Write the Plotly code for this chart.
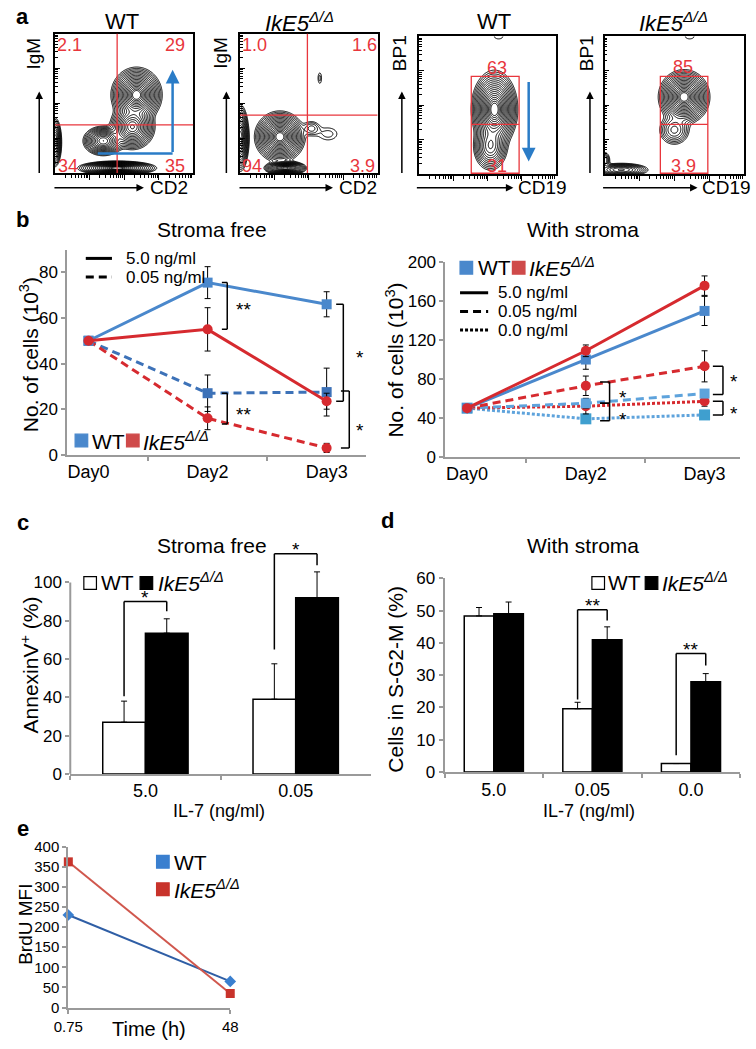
import numpy as np
import plotly.graph_objects as go

W, H = 756, 1049
FONT = "Arial, 'Liberation Sans', Helvetica, sans-serif"
KO = "<i>IkE5</i><sup><i>Δ/Δ</i></sup>"

# ---------------- data ----------------
# panel a: contour populations (frame-relative centre, spread, weight)
A1_X = [0.59, 0.56, 0.35, 0.45, 0.00]
A1_Y = [0.56, 0.33, 0.23, 0.035, 0.22]
A1_SX = [0.065, 0.06, 0.055, 0.10, 0.02]
A1_SY = [0.07, 0.06, 0.04, 0.018, 0.07]
A1_W = [1.0, 0.7, 0.6, 1.0, 0.4]
A1_GATE = (0.45, 0.345)
A1_PCT = ["2.1", "29", "34", "35"]

A2_X = [0.29, 0.00, 0.33, 0.52, 0.58, 0.64]
A2_Y = [0.26, 0.25, 0.035, 0.32, 0.68, 0.28]
A2_SX = [0.065, 0.025, 0.055, 0.035, 0.012, 0.06]
A2_SY = [0.065, 0.09, 0.018, 0.03, 0.035, 0.04]
A2_W = [1.0, 0.6, 0.9, 0.06, 0.03, 0.03]
A2_GATE = (0.49, 0.415)
A2_PCT = ["1.0", "1.6", "94", "3.9"]

A3_X = [0.55, 0.52, 0.58]
A3_Y = [0.47, 0.20, 1.00]
A3_SX = [0.06, 0.05, 0.035]
A3_SY = [0.10, 0.07, 0.02]
A3_W = [1.0, 0.35, 0.025]
A3_BOX = (0.38, 0.73, 0.36, 0.71)
A3_PCT = ["63", "31"]

A4_X = [0.57, 0.50, 0.12, 0.00, 0.61]
A4_Y = [0.56, 0.32, 0.03, 0.10, 1.00]
A4_SX = [0.065, 0.05, 0.08, 0.02, 0.035]
A4_SY = [0.07, 0.05, 0.02, 0.03, 0.02]
A4_W = [1.0, 0.15, 0.3, 0.1, 0.025]
A4_BOX = (0.40, 0.74, 0.36, 0.71)
A4_PCT = ["85", "3.9"]

# panel b
DAYS = ["Day0", "Day2", "Day3"]
SF_WT_5 = [50, 75.5, 66]
SF_WT_5_ERR = [0, 7, 5.5]
SF_KO_5 = [50, 55, 23.5]
SF_KO_5_ERR = [0, 9.5, 3.5]
SF_WT_005 = [50, 27, 27.5]
SF_WT_005_ERR = [0, 8, 10.5]
SF_KO_005 = [50, 16, 3]
SF_KO_005_ERR = [0, 5, 2]

WS_WT_5 = [50, 100, 150]
WS_WT_5_ERR = [0, 10, 15]
WS_KO_5 = [50, 109, 176]
WS_KO_5_ERR = [0, 6, 10]
WS_WT_005 = [50, 55, 65]
WS_WT_005_ERR = [0, 5, 3]
WS_KO_005 = [50, 73, 93]
WS_KO_005_ERR = [0, 10, 16]
WS_WT_00 = [50, 39, 43]
WS_WT_00_ERR = [0, 3, 3]
WS_KO_00 = [50, 52, 57]
WS_KO_00_ERR = [0, 8, 5]

# significance brackets: (category, y_high, y_low, label, label_y)
SIG_B1 = [(1, 75.5, 55, "**", 65), (1, 27, 13.5, "**", 19), (2, 66, 23.5, "*", 44), (2, 28, 3, "*", 12)]
SIG_B2 = [(1, 77, 55, "*", 64), (1, 55, 37, "*", 41), (2, 93, 64, "*", 80), (2, 57, 43, "*", 48)]

# panel c
IL7_C = ["5.0", "0.05"]
C_WT = [27, 39]
C_WT_ERR = [11, 18.5]
C_KO = [73.5, 92]
C_KO_ERR = [7.5, 13.5]
SIG_C = [(0, 40.5, 90, 85, "*"), (1, 65, 115, 109, "*")]

# panel d
IL7_D = ["5.0", "0.05", "0.0"]
D_WT = [48.4, 19.6, 2.6]
D_WT_ERR = [2.6, 2.0, 0]
D_KO = [49.1, 41, 28]
D_KO_ERR = [3.6, 4.0, 2.5]
SIG_D = [(1, 22.5, 50.3, 47, "**"), (2, 5.2, 36.7, 33, "**")]

# panel e
TIME = ["0.75", "48"]
E_WT = [230, 65]
E_KO = [362, 35]

# ---------------- colours ----------------
BLUE = "#4a88cc"
BLUE_D = "#3d72b8"
BLUE_L = "#5ea3dc"
CYAN = "#3f9fcf"
RED = "#d62a2f"
GATE = "#e8363c"
ARROW_BLUE = "#2a7cc7"
GREY = "#9a9a9a"

fig = go.Figure()
layout = dict(width=W, height=H, margin=dict(l=0, r=0, t=0, b=0),
              paper_bgcolor="white", plot_bgcolor="rgba(0,0,0,0)",
              showlegend=False, font=dict(family=FONT, color="black"))
ann, shapes = [], []


def names(i):
    s = "" if i == 1 else str(i)
    return "xaxis" + s, "yaxis" + s, "x" + s, "y" + s


def set_axes(i, xpx, ypx, xo, yo):
    xa, ya, xr, yr = names(i)
    layout[xa] = dict(domain=[xpx[0] / W, xpx[1] / W], anchor=yr, **xo)
    layout[ya] = dict(domain=[1 - ypx[1] / H, 1 - ypx[0] / H], anchor=xr, **yo)


def P(x, y):
    return x / W, 1 - y / H


def text(x, y, s, size=16, color="black", xanchor="center", yanchor="middle", angle=0):
    px, py = P(x, y)
    ann.append(dict(x=px, y=py, xref="paper", yref="paper", text=s, showarrow=False,
                    font=dict(size=size, color=color, family=FONT),
                    xanchor=xanchor, yanchor=yanchor, textangle=angle))


def arrow_px(x0, y0, x1, y1, color="black", width=1.5, head=2, size=1.0):
    px, py = P(x1, y1)
    ann.append(dict(x=px, y=py, xref="paper", yref="paper", ax=x0 - x1, ay=y0 - y1,
                    text="", showarrow=True, arrowhead=head, arrowsize=size,
                    arrowwidth=width, arrowcolor=color))


def line(xref, yref, x0, y0, x1, y1, color="black", width=1.5, dash="solid"):
    shapes.append(dict(type="line", xref=xref, yref=yref, x0=x0, y0=y0, x1=x1, y1=y1,
                       line=dict(color=color, width=width, dash=dash)))


def rect_px(x0, y0, x1, y1, fill, lc=None):
    a, b = P(x0, y0)
    c, d = P(x1, y1)
    shapes.append(dict(type="rect", xref="paper", yref="paper", x0=a, y0=d, x1=c, y1=b,
                       fillcolor=fill, line=dict(color=lc or fill, width=1.2)))


def line_px(x0, y0, x1, y1, width=3, dash="solid"):
    a, b = P(x0, y0)
    c, d = P(x1, y1)
    shapes.append(dict(type="line", xref="paper", yref="paper", x0=a, y0=b, x1=c, y1=d,
                       line=dict(color="black", width=width, dash=dash)))


# ---------------- panel a ----------------
GRID = np.linspace(-0.01, 1.01, 205)


def density(bx, by, sx, sy, w):
    X, Y = np.meshgrid(GRID, GRID)
    Z = np.zeros_like(X)
    for cx, cy, ax_, ay_, ww in zip(bx, by, sx, sy, w):
        Z += ww * np.exp(-0.5 * (((X - cx) / ax_) ** 2 + ((Y - cy) / ay_) ** 2))
    L = np.log10(Z / Z.max() + 1e-6)
    return -np.sqrt(np.clip(-L, 0, None))


MAJ = [0.25, 0.5, 0.75]
MIN = [d * 0.25 + np.log10(k) * 0.25 for d in range(4) for k in range(2, 10)]


def flow_axis(ticks):
    return dict(range=[0, 1], showgrid=False, zeroline=False, showline=True, mirror=True,
                linecolor="black", linewidth=1.5, ticks=ticks, tickvals=MAJ, ticklen=5,
                tickcolor="black", tickwidth=1, showticklabels=False,
                minor=dict(tickvals=MIN, ticklen=3, ticks=ticks, tickcolor="black", tickwidth=1))


flow_panels = [
    (1, (41, 184), (25, 167), (A1_X, A1_Y, A1_SX, A1_SY, A1_W)),
    (2, (232, 374), (25, 167), (A2_X, A2_Y, A2_SX, A2_SY, A2_W)),
    (3, (417, 558), (28, 168), (A3_X, A3_Y, A3_SX, A3_SY, A3_W)),
    (4, (608, 752), (28, 168), (A4_X, A4_Y, A4_SX, A4_SY, A4_W)),
]
for i, xpx, ypx, blobs in flow_panels:
    set_axes(i, xpx, ypx, flow_axis("outside"), flow_axis("inside"))
    _, _, xr, yr = names(i)
    Z = density(*blobs)
    fig.add_trace(go.Contour(x=GRID, y=GRID, z=Z, xaxis=xr, yaxis=yr, showscale=False,
                             contours=dict(coloring="none", start=-1.33, end=-0.2, size=0.066),
                             line=dict(color="black", width=1), hoverinfo="skip"))

# quadrant gates
for i, gate in [(1, A1_GATE), (2, A2_GATE)]:
    _, _, xr, yr = names(i)
    line(xr, yr, gate[0], 0, gate[0], 1, GATE, 1.3)
    line(xr, yr, 0, gate[1], 1, gate[1], GATE, 1.3)
# box gates
for i, box in [(3, A3_BOX), (4, A4_BOX)]:
    _, _, xr, yr = names(i)
    x0, x1, ym, y1 = box
    shapes.append(dict(type="rect", xref=xr, yref=yr, x0=x0, x1=x1, y0=0.005, y1=y1,
                       line=dict(color=GATE, width=1.3)))
    line(xr, yr, x0, ym, x1, ym, GATE, 1.3)

# gate percentages
for (x, y), s in zip([(56, 37), (165, 37), (55, 160), (165, 160)], A1_PCT):
    text(x, y, s, 18, GATE)
for (x, y), s in zip([(247, 37), (360, 37), (244, 160), (358, 160)], A2_PCT):
    text(x, y, s, 18, GATE)
for (x, y), s in zip([(497, 60), (497, 160)], A3_PCT):
    text(x, y, s, 18, GATE)
for (x, y), s in zip([(689, 59), (689, 160)], A4_PCT):
    text(x, y, s, 18, GATE)

# blue arrows
line("x", "y", 0.31, 0.14, 0.85, 0.14, ARROW_BLUE, 2.5)
ann.append(dict(x=0.85, y=0.74, xref="x", yref="y", ax=0.85, ay=0.14, axref="x", ayref="y",
                text="", showarrow=True, arrowhead=2, arrowsize=1.1, arrowwidth=2.5,
                arrowcolor=ARROW_BLUE))
ann.append(dict(x=0.80, y=0.09, xref="x3", yref="y3", ax=0.80, ay=0.68, axref="x3", ayref="y3",
                text="", showarrow=True, arrowhead=2, arrowsize=1.1, arrowwidth=2.5,
                arrowcolor=ARROW_BLUE))

# titles, axis arrows & labels
text(8, 8, "<b>a</b>", 22)
text(110, 13, "WT", 22)
text(293, 13, KO, 22)
text(494, 13, "WT", 22)
text(679, 13, KO, 22)
for x0, x1, lab, lx in [(42, 133, "CD2", 137), (233, 328, "CD2", 332),
                        (416, 514, "CD19", 517), (608, 704, "CD19", 706)]:
    arrow_px(x0, 182, x1, 182)
    text(lx, 182, lab, 19, xanchor="left")
for x, lab, lx in [(25, "IgM", 19), (218, "IgM", 212), (399, "BP1", 396), (593, "BP1", 589)]:
    arrow_px(x, 167, x, 84)
    text(lx, 45, lab, 19, angle=-90)

# ---------------- panel b ----------------
TICKF = dict(size=17, family=FONT, color="black")
CATF = dict(size=18, family=FONT, color="black")


def grey_axis(**kw):
    d = dict(showgrid=False, zeroline=False, showline=True, linecolor=GREY, linewidth=2,
             ticks="outside", tickcolor=GREY, tickwidth=1.5, ticklen=4, tickfont=TICKF)
    d.update(kw)
    return d


set_axes(5, (54, 362), (245, 454),
         grey_axis(type="category", categoryarray=DAYS, tickson="boundaries", tickfont=CATF),
         grey_axis(range=[0, 90], tickvals=[0, 20, 40, 60, 80]))
set_axes(6, (444, 748), (258, 456),
         grey_axis(type="category", categoryarray=DAYS, tickson="boundaries", tickfont=CATF),
         grey_axis(range=[0, 200], tickvals=[0, 40, 80, 120, 160, 200]))


def line_trace(i, y, err, color, dash, symbol, msize=10, mcolor=None):
    _, _, xr, yr = names(i)
    return go.Scatter(x=DAYS, y=y, xaxis=xr, yaxis=yr, mode="lines+markers",
                      line=dict(color=color, width=3, dash=dash),
                      marker=dict(symbol=symbol, size=msize, color=mcolor or color),
                      error_y=dict(type="data", array=err, visible=True, color="black",
                                   thickness=1, width=3),
                      cliponaxis=False, hoverinfo="skip")


DASH = "8px,5px"
DOT = "3px,2px"
fig.add_trace(line_trace(5, SF_WT_005, SF_WT_005_ERR, BLUE_D, DASH, "square"))
fig.add_trace(line_trace(5, SF_KO_005, SF_KO_005_ERR, RED, DASH, "circle"))
fig.add_trace(line_trace(5, SF_WT_5, SF_WT_5_ERR, BLUE, "solid", "square"))
fig.add_trace(line_trace(5, SF_KO_5, SF_KO_5_ERR, RED, "solid", "circle"))

fig.add_trace(line_trace(6, WS_WT_00, WS_WT_00_ERR, BLUE_L, DOT, "square", 11, CYAN))
fig.add_trace(line_trace(6, WS_KO_00, WS_KO_00_ERR, RED, DOT, "circle"))
fig.add_trace(line_trace(6, WS_WT_005, WS_WT_005_ERR, BLUE_L, DASH, "square"))
fig.add_trace(line_trace(6, WS_KO_005, WS_KO_005_ERR, RED, DASH, "circle"))
fig.add_trace(line_trace(6, WS_WT_5, WS_WT_5_ERR, BLUE, "solid", "square"))
fig.add_trace(line_trace(6, WS_KO_5, WS_KO_5_ERR, RED, "solid", "circle"))


def side_brackets(i, sig, offs):
    _, _, xr, yr = names(i)
    for (cat, yh, yl, lab, ly), (xv, xt, xl) in zip(sig, offs):
        line(xr, yr, cat + xt, yh, cat + xv, yh, "black", 1.5)
        line(xr, yr, cat + xv, yh, cat + xv, yl, "black", 1.5)
        line(xr, yr, cat + xt, yl, cat + xv, yl, "black", 1.5)
        ann.append(dict(x=cat + xl, y=ly, xref=xr, yref=yr, text=lab, showarrow=False,
                        font=dict(size=19, family=FONT), yshift=-3))


side_brackets(5, SIG_B1, [(0.165, 0.12, 0.30), (0.165, 0.12, 0.30), (0.14, 0.08, 0.28), (0.19, 0.12, 0.28)])
side_brackets(6, SIG_B2, [(0.20, 0.12, 0.31), (0.20, 0.12, 0.31), (0.155, 0.07, 0.25), (0.155, 0.07, 0.25)])

text(8, 214, "<b>b</b>", 22)
text(203, 225, "Stroma free", 21)
text(586, 225, "With stroma", 21)
text(14, 352, "No. of cells (10<sup>3</sup>)", 21, angle=-90)
text(391, 358, "No. of cells (10<sup>3</sup>)", 21, angle=-90)

# b1 legends
line_px(73, 254, 100, 254, 3)
line_px(73, 273, 100, 273, 3, DASH)
text(112, 254, "5.0 ng/ml", 17, xanchor="left")
text(112, 273, "0.05 ng/ml", 17, xanchor="left")
rect_px(62, 433, 75, 446, BLUE)
text(77, 440, "WT", 21, xanchor="left")
rect_px(115, 433, 128, 446, "#cf4a4a")
text(130, 440, KO, 21, xanchor="left")
# b2 legends
rect_px(459, 257, 472, 270, BLUE)
text(475, 263, "WT", 21, xanchor="left")
rect_px(513, 257, 526, 270, "#cf4a4a")
text(528, 263, KO, 21, xanchor="left")
line_px(459, 289, 488, 289, 3)
line_px(459, 308, 488, 308, 3, DASH)
line_px(459, 327, 488, 327, 3, DOT)
text(496, 289, "5.0 ng/ml", 17, xanchor="left")
text(496, 308, "0.05 ng/ml", 17, xanchor="left")
text(496, 327, "0.0 ng/ml", 17, xanchor="left")

# ---------------- panel c & d ----------------
set_axes(7, (57, 367), (545, 779),
         grey_axis(type="category", categoryarray=IL7_C, tickson="boundaries", tickfont=CATF),
         grey_axis(range=[0, 120], tickvals=[0, 20, 40, 60, 80, 100], showline=False))
line("x7 domain", "y7", 0, 0, 0, 100, GREY, 2)
set_axes(8, (443, 748), (580, 777),
         grey_axis(type="category", categoryarray=IL7_D, tickson="boundaries", tickfont=CATF),
         grey_axis(range=[0, 60], tickvals=[0, 10, 20, 30, 40, 50, 60]))


def bars(i, cats, wt, wt_err, ko, ko_err, bw):
    _, _, xr, yr = names(i)
    for vals, err, fill, off in [(wt, wt_err, "white", -bw), (ko, ko_err, "black", 0)]:
        fig.add_trace(go.Bar(x=cats, y=vals, xaxis=xr, yaxis=yr, width=bw, offset=off,
                             marker=dict(color=fill, line=dict(color="black", width=1.5)),
                             error_y=dict(type="data", array=err, arrayminus=[0] * len(err),
                                          symmetric=False, visible=True, color="black",
                                          thickness=1, width=3),
                             hoverinfo="skip"))


bars(7, IL7_C, C_WT, C_WT_ERR, C_KO, C_KO_ERR, 0.284)
bars(8, IL7_D, D_WT, D_WT_ERR, D_KO, D_KO_ERR, 0.30)


def top_brackets(i, sig, half):
    _, _, xr, yr = names(i)
    for cat, y0, ytop, y1, lab in sig:
        xa, xb = cat - half, cat + half
        line(xr, yr, xa, y0, xa, ytop, "black", 1.5)
        line(xr, yr, xa, ytop, xb, ytop, "black", 1.5)
        line(xr, yr, xb, ytop, xb, y1, "black", 1.5)
        ann.append(dict(x=cat, y=ytop, xref=xr, yref=yr, text=lab, showarrow=False,
                        font=dict(size=19, family=FONT), yanchor="bottom", yshift=-8))


top_brackets(7, SIG_C, 0.142)
top_brackets(8, SIG_D, 0.15)

text(8, 523, "<b>c</b>", 22)
text(384, 521, "<b>d</b>", 22)
text(203, 546, "Stroma free", 21)
text(586, 546, "With stroma", 21)
text(15, 668, "AnnexinV<sup>+</sup> (%)", 21, angle=-90)
text(393, 683, "Cells in S-G2-M (%)", 21, angle=-90)
text(210, 817, "IL-7 (ng/ml)", 18)
text(592, 817, "IL-7 (ng/ml)", 18)
rect_px(71, 578, 84, 591, "white", "black")
text(87, 584, "WT", 21, xanchor="left")
rect_px(129, 578, 142, 591, "black")
text(145, 584, KO, 21, xanchor="left")
rect_px(595, 578, 608, 591, "white", "black")
text(610, 584, "WT", 21, xanchor="left")
rect_px(650, 578, 663, 591, "black")
text(665, 584, KO, 21, xanchor="left")

# ---------------- panel e ----------------
EF = dict(size=15, family=FONT, color="black")
set_axes(9, (55, 222), (853, 1017),
         grey_axis(type="category", categoryarray=TIME, range=[0, 1], tickfont=EF),
         grey_axis(range=[0, 400], tickvals=list(range(0, 401, 50)), tickfont=EF))
fig.add_trace(go.Scatter(x=TIME, y=E_WT, xaxis="x9", yaxis="y9", mode="lines+markers",
                         line=dict(color="#2f5ea5", width=2),
                         marker=dict(symbol="diamond", size=9, color="#3a7fcf"),
                         cliponaxis=False, hoverinfo="skip"))
fig.add_trace(go.Scatter(x=TIME, y=E_KO, xaxis="x9", yaxis="y9", mode="lines+markers",
                         line=dict(color="#d0574d", width=2),
                         marker=dict(symbol="square", size=9, color="#c8332b"),
                         cliponaxis=False, hoverinfo="skip"))
text(8, 835, "<b>e</b>", 22)
text(10, 932, "BrdU MFI", 19, angle=-90)
text(138, 1039, "Time (h)", 20)
rect_px(146, 862, 159, 875, "#3a7fcf")
text(162, 869, "WT", 21, xanchor="left")
rect_px(146, 890, 159, 903, "#c8332b")
text(162, 896, KO, 21, xanchor="left")

layout["annotations"] = ann
layout["shapes"] = shapes
fig.update_layout(**layout)
fig.write_html("out.html", config={"displayModeBar": False},
               post_script="document.body.style.margin='0';document.body.style.overflow='hidden';")
